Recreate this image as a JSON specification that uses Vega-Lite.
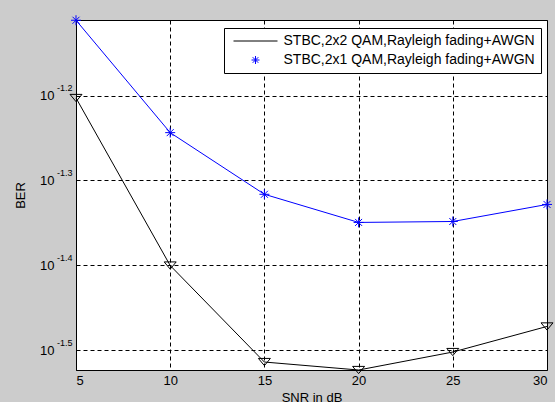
{
  "$schema": "https://vega.github.io/schema/vega-lite/v6.json",
  "width": 471,
  "height": 350,
  "autosize": {"type": "none"},
  "padding": {"left": 76, "top": 20, "right": 8, "bottom": 32},
  "background": "#cccccc",
  "config": {
    "font": "Liberation Sans",
    "view": {"stroke": "#000000", "strokeWidth": 1, "fill": "#ffffff"},
    "axis": {
      "domainColor": "#000000",
      "gridColor": "#000000",
      "gridDash": [4, 3],
      "gridOpacity": 1,
      "gridWidth": 1,
      "ticks": false,
      "labelColor": "#000000",
      "labelFontSize": 13,
      "labelFont": "Liberation Sans",
      "titleFont": "Liberation Sans",
      "titleFontSize": 13,
      "titleFontWeight": "normal",
      "titleColor": "#000000"
    }
  },
  "datasets": {
    "ber": [
      {"snr": 5, "ber": 0.062705, "series": "STBC,2x2 QAM,Rayleigh fading+AWGN"},
      {"snr": 10, "ber": 0.03978, "series": "STBC,2x2 QAM,Rayleigh fading+AWGN"},
      {"snr": 15, "ber": 0.030606, "series": "STBC,2x2 QAM,Rayleigh fading+AWGN"},
      {"snr": 20, "ber": 0.029951, "series": "STBC,2x2 QAM,Rayleigh fading+AWGN"},
      {"snr": 25, "ber": 0.031449, "series": "STBC,2x2 QAM,Rayleigh fading+AWGN"},
      {"snr": 30, "ber": 0.033712, "series": "STBC,2x2 QAM,Rayleigh fading+AWGN"},
      {"snr": 5, "ber": 0.077446, "series": "STBC,2x1 QAM,Rayleigh fading+AWGN"},
      {"snr": 10, "ber": 0.057073, "series": "STBC,2x1 QAM,Rayleigh fading+AWGN"},
      {"snr": 15, "ber": 0.048273, "series": "STBC,2x1 QAM,Rayleigh fading+AWGN"},
      {"snr": 20, "ber": 0.04472, "series": "STBC,2x1 QAM,Rayleigh fading+AWGN"},
      {"snr": 25, "ber": 0.044833, "series": "STBC,2x1 QAM,Rayleigh fading+AWGN"},
      {"snr": 30, "ber": 0.046959, "series": "STBC,2x1 QAM,Rayleigh fading+AWGN"}
    ],
    "expolabels": [
      {"v": 0.063096, "e": "-1.2"},
      {"v": 0.050119, "e": "-1.3"},
      {"v": 0.039811, "e": "-1.4"},
      {"v": 0.031623, "e": "-1.5"}
    ]
  },
  "layer": [
    {
      "data": {"name": "ber"},
      "transform": [{"filter": "datum.series === 'STBC,2x2 QAM,Rayleigh fading+AWGN'"}],
      "mark": {
        "type": "line",
        "color": "#000000",
        "strokeWidth": 1,
        "clip": false,
        "point": {"shape": "M-1,-0.6L1,-0.6L0,0.6Z", "filled": false, "size": 144, "color": "#000000", "strokeWidth": 1}
      },
      "encoding": {
        "x": {
          "field": "snr",
          "type": "quantitative",
          "scale": {"domain": [5, 30], "nice": false, "zero": false},
          "axis": {
            "values": [5, 10, 15, 20, 25, 30],
            "title": "SNR in dB",
            "labelPadding": 4,
            "titleBaseline": "top",
            "titleY": 21,
            "grid": true
          }
        },
        "y": {
          "field": "ber",
          "type": "quantitative",
          "scale": {"type": "log", "domain": [0.029951, 0.0775], "nice": false, "zero": false},
          "axis": {
            "values": [0.063096, 0.050119, 0.039811, 0.031623],
            "labelExpr": "'10'",
            "labelPadding": 22,
            "title": "BER",
            "titleX": -56,
            "titleBaseline": "middle",
            "grid": true
          }
        }
      }
    },
    {
      "data": {"name": "ber"},
      "transform": [{"filter": "datum.series === 'STBC,2x1 QAM,Rayleigh fading+AWGN'"}],
      "mark": {
        "type": "line",
        "color": "#0000ff",
        "strokeWidth": 1,
        "clip": false,
        "point": {"shape": "M-1,0L1,0M0,-1L0,1M-0.7,-0.7L0.7,0.7M-0.7,0.7L0.7,-0.7", "filled": false, "size": 100, "color": "#0000ff", "strokeWidth": 1}
      },
      "encoding": {
        "x": {"field": "snr", "type": "quantitative"},
        "y": {"field": "ber", "type": "quantitative"}
      }
    },
    {
      "data": {"name": "ber"},
      "mark": {"type": "point", "opacity": 0, "filled": false},
      "encoding": {
        "x": {"field": "snr", "type": "quantitative"},
        "y": {"field": "ber", "type": "quantitative"},
        "color": {
          "field": "series",
          "type": "nominal",
          "scale": {
            "domain": ["STBC,2x2 QAM,Rayleigh fading+AWGN", "STBC,2x1 QAM,Rayleigh fading+AWGN"],
            "range": ["#000000", "#0000ff"]
          },
          "legend": {
            "title": null,
            "orient": "none",
            "legendX": 148,
            "legendY": 8,
            "direction": "vertical",
            "strokeColor": "#000000",
            "fillColor": "#ffffff",
            "padding": 6,
            "labelFontSize": 14,
            "labelColor": "#000000",
            "labelFont": "Liberation Sans",
            "labelLimit": 400,
            "symbolSize": 100,
            "symbolOffset": 18.5,
            "labelOffset": 21,
            "rowPadding": 5,
            "symbolStrokeWidth": 1,
            "symbolOpacity": 1
          }
        },
        "shape": {
          "field": "series",
          "type": "nominal",
          "scale": {
            "domain": ["STBC,2x2 QAM,Rayleigh fading+AWGN", "STBC,2x1 QAM,Rayleigh fading+AWGN"],
            "range": ["M-4.4,0H4.4", "M-0.8,0L0.8,0M0,-0.8L0,0.8M-0.56,-0.56L0.56,0.56M-0.56,0.56L0.56,-0.56"]
          }
        }
      }
    },
    {
      "data": {"name": "expolabels"},
      "mark": {"type": "text", "align": "left", "baseline": "middle", "dx": -19, "dy": -7.5, "fontSize": 9, "font": "Liberation Sans", "color": "#000000", "clip": false},
      "encoding": {
        "x": {"datum": 5, "type": "quantitative"},
        "y": {"field": "v", "type": "quantitative"},
        "text": {"field": "e", "type": "nominal"}
      }
    }
  ]
}
